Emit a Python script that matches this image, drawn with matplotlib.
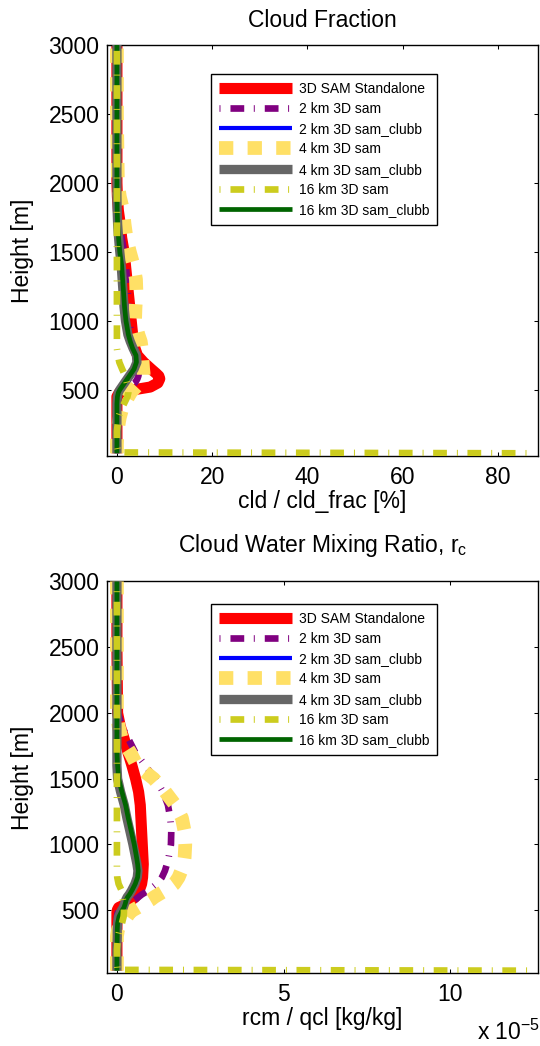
import matplotlib
matplotlib.use('Agg')
import matplotlib.pyplot as plt

plt.rcParams['font.family'] = ['Liberation Sans', 'DejaVu Sans']
plt.rcParams['mathtext.fontset'] = 'custom'
plt.rcParams['mathtext.rm'] = 'Liberation Sans'
plt.rcParams['lines.scale_dashes'] = False

# heights [m], shared by all profiles
height = [40, 46, 100, 200, 300, 350, 400, 450, 480, 500, 520, 550, 580, 600, 620, 650,
          700, 750, 800, 850, 900, 1000, 1100, 1200, 1300, 1400, 1500, 1600, 1700, 1800,
          1900, 2000, 2500, 3000]

labels = ['3D SAM Standalone', '2 km 3D sam', '2 km 3D sam_clubb', '4 km 3D sam',
          '4 km 3D sam_clubb', '16 km 3D sam', '16 km 3D sam_clubb']

# cloud fraction [%]
cld_sam   = [0, 0, 0, 0, 0, 0, 0, 0, 0.5, 3.5, 7.0, 8.6, 9.0, 8.8, 8.2, 7.2, 5.6, 4.3, 3.8, 3.5,
             3.3, 3.0, 2.7, 2.4, 2.1, 1.8, 1.5, 1.0, 0.7, 0.3, 0.1, 0, 0, 0]
cld_2km   = [0, 0, 0, 0, 0, 0, 0, 0, 0.2, 1.0, 2.5, 3.8, 4.3, 4.5, 4.6, 4.6, 4.5, 4.2, 3.8, 3.4,
             3.0, 2.6, 2.4, 2.3, 2.1, 1.9, 1.5, 1.0, 0.5, 0.2, 0.05, 0, 0, 0]
cld_2km_c = [0, 0, 0, 0, 0, 0, 0, 0.1, 0.3, 0.6, 1.0, 1.6, 2.2, 2.6, 3.0, 3.6, 4.1, 4.0, 3.3,
             2.8, 2.4, 1.9, 1.6, 1.4, 1.2, 1.0, 0.6, 0.35, 0.15, 0.05, 0, 0, 0, 0]
cld_4km   = [0, 0, 0, 0.1, 0.6, 1.0, 1.6, 2.4, 2.9, 3.4, 4.0, 4.8, 5.4, 5.6, 5.6, 5.5, 5.4, 5.3,
             5.2, 5.0, 4.5, 3.8, 3.9, 4.1, 4.0, 3.5, 2.7, 2.0, 1.6, 1.3, 0.6, 0.2, 0, 0]
cld_4km_c = [0, 0, 0, 0, 0, 0, 0, 0.1, 0.3, 0.6, 1.0, 1.6, 2.2, 2.6, 3.0, 3.6, 4.2, 4.1, 3.4,
             2.8, 2.3, 1.8, 1.5, 1.3, 1.1, 0.9, 0.6, 0.35, 0.15, 0.05, 0, 0, 0, 0]
cld_16km  = [86.0, 0.3, 0, 0, 0.3, 0.8, 1.5, 2.2, 2.4, 2.4, 2.3, 2.1, 1.9, 1.7, 1.5, 1.1, 0.5,
             0.2, 0, 0, 0, 0, 0, 0, 0, 0, 0, 0, 0, 0, 0, 0, 0, 0]
cld_16km_c = [0, 0, 0, 0, 0, 0, 0, 0.1, 0.3, 0.6, 1.0, 1.6, 2.2, 2.6, 3.0, 3.6, 4.1, 4.0, 3.3,
              2.8, 2.4, 1.9, 1.6, 1.4, 1.2, 1.0, 0.6, 0.35, 0.15, 0.05, 0, 0, 0, 0]

# cloud water mixing ratio [1e-5 kg/kg]
rc_sam   = [0, 0, 0, 0, 0, 0, 0, 0, 0, 0.01, 0.05, 0.3, 0.45, 0.55, 0.6, 0.67, 0.74, 0.77, 0.78,
            0.79, 0.78, 0.76, 0.74, 0.72, 0.7, 0.65, 0.56, 0.45, 0.33, 0.22, 0.1, 0.02, 0, 0]
rc_2km   = [0, 0, 0, 0, 0, 0, 0, 0, 0.02, 0.08, 0.2, 0.38, 0.55, 0.65, 0.75, 0.95, 1.2, 1.35,
            1.44, 1.5, 1.55, 1.62, 1.63, 1.6, 1.53, 1.38, 1.15, 0.85, 0.55, 0.35, 0.15, 0.03, 0, 0]
rc_2km_c = [0, 0, 0, 0, 0.01, 0.01, 0.02, 0.06, 0.12, 0.16, 0.21, 0.25, 0.28, 0.32, 0.38, 0.45,
            0.55, 0.62, 0.64, 0.62, 0.59, 0.52, 0.43, 0.34, 0.26, 0.15, 0.05, 0.02, 0, 0, 0, 0, 0, 0]
rc_4km   = [0, 0, 0, 0, 0, 0.03, 0.12, 0.3, 0.38, 0.48, 0.62, 0.82, 1.02, 1.12, 1.25, 1.45, 1.72,
            1.85, 1.93, 2.0, 2.03, 2.05, 2.03, 1.95, 1.75, 1.45, 1.1, 0.6, 0.4, 0.15, 0.05, 0, 0, 0]
rc_4km_c = [0, 0, 0, 0, 0.01, 0.01, 0.02, 0.05, 0.1, 0.14, 0.19, 0.23, 0.27, 0.31, 0.37, 0.44,
            0.54, 0.61, 0.63, 0.6, 0.56, 0.48, 0.39, 0.3, 0.22, 0.11, 0.02, 0, 0, 0, 0, 0, 0, 0]
rc_16km  = [12.3, 0.02, 0, 0, 0.03, 0.08, 0.15, 0.2, 0.21, 0.21, 0.21, 0.2, 0.18, 0.17, 0.16,
            0.14, 0.05, 0.01, 0, 0, 0, 0, 0, 0, 0, 0, 0, 0, 0, 0, 0, 0, 0, 0]
rc_16km_c = [0, 0, 0, 0, 0.01, 0.01, 0.02, 0.06, 0.12, 0.16, 0.21, 0.25, 0.28, 0.32, 0.38, 0.45,
             0.55, 0.62, 0.64, 0.62, 0.59, 0.52, 0.43, 0.34, 0.26, 0.15, 0.05, 0.02, 0, 0, 0, 0, 0, 0]

dashdot = (0, (0.7, 7.2, 9.9, 6.9))
styles = [
    dict(color='#FF0000', lw=8.0, ls='-', zorder=2),
    dict(color='#800080', lw=4.8, ls=dashdot, zorder=3),
    dict(color='#0000FF', lw=3.0, ls='-', zorder=4),
    dict(color='#FFE066', lw=9.9, ls=(0, (10.3, 10.3)), zorder=5),
    dict(color='#666666', lw=6.7, ls='-', zorder=6),
    dict(color='#CCCC1E', lw=4.8, ls=dashdot, zorder=8),
    dict(color='#006400', lw=3.4, ls='-', zorder=7),
]

FS = 16.5
fig = plt.figure(figsize=(5.4, 10.46), dpi=100)
ax1 = fig.add_axes([0.198, 0.564, 0.799, 0.3932])
ax2 = fig.add_axes([0.198, 0.0695, 0.799, 0.3746])


def draw(ax, series, xlim, xticks, title, title_pad, xlabel, leg_top):
    handles = []
    for data, st, lab in zip(series, styles, labels):
        h, = ax.plot(data, height, label=lab, solid_capstyle='butt', dash_capstyle='butt', **st)
        handles.append(h)
    ax.set_xlim(xlim)
    ax.set_ylim(20, 3000)
    ax.set_xticks(xticks)
    ax.set_yticks([500, 1000, 1500, 2000, 2500, 3000])
    ax.tick_params(direction='in', top=True, right=True, length=3, width=0.75, labelsize=FS)
    ax.tick_params(axis='x', pad=7)
    ax.tick_params(axis='y', pad=5.3)
    for s in ax.spines.values():
        s.set_linewidth(1.0)
    ax.set_title(title, fontsize=FS, pad=title_pad)
    ax.set_xlabel(xlabel, fontsize=FS, labelpad=1)
    ax.set_ylabel('Height [m]', fontsize=FS)
    ax.yaxis.set_label_coords(-0.168, 0.5)
    leg = ax.legend(handles=handles, loc='upper left', bbox_to_anchor=(0.2415, leg_top),
                    borderaxespad=0, borderpad=0.55, labelspacing=0.45, handlelength=5.3,
                    handletextpad=0.5, fancybox=False, framealpha=1, edgecolor='black',
                    fontsize=10)
    leg.get_frame().set_linewidth(1.0)
    leg.set_zorder(20)


draw(ax1, [cld_sam, cld_2km, cld_2km_c, cld_4km, cld_4km_c, cld_16km, cld_16km_c],
     (-2.1, 88.5), [0, 20, 40, 60, 80], 'Cloud Fraction', 13, 'cld / cld_frac [%]', 0.929)
draw(ax2, [rc_sam, rc_2km, rc_2km_c, rc_4km, rc_4km_c, rc_16km, rc_16km_c],
     (-0.3, 12.64), [0, 5, 10], r'Cloud Water Mixing Ratio, $\mathregular{r_c}$', 21,
     'rcm / qcl [kg/kg]', 0.9426)

fig.text(477 / 540, 1 - 1040 / 1046, r'x 10$\mathregular{^{-5}}$', fontsize=FS,
         ha='left', va='baseline')

fig.savefig('out.png', dpi=100)
